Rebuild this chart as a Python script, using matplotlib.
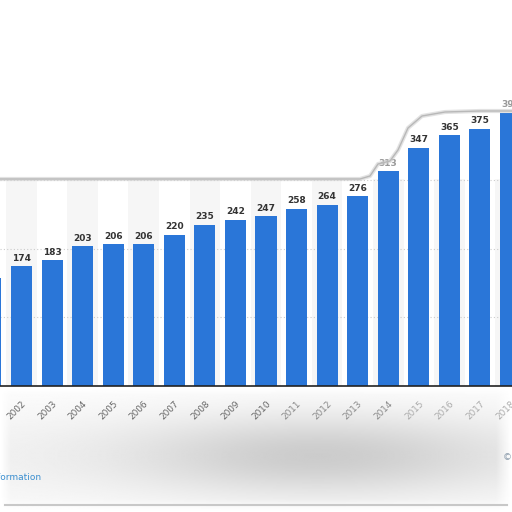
import numpy as np
import matplotlib.pyplot as plt
from matplotlib.lines import Line2D

years = list(range(2001, 2019))
values = [157, 174, 183, 203, 206, 206, 220, 235, 242, 247, 258, 264, 276, 313, 347, 365, 375, 398]
faded = [2014, 2018]  # labels sitting under the grey overlay

W = 512.0
fig = plt.figure(figsize=(5.12, 5.12), dpi=100)
fig.patch.set_facecolor('white')

# grey blurred panel under the axis
bg = fig.add_axes([0, 0, 1, 125 / W])
bg.set_axis_off()
yy, xx = np.mgrid[0:1:200j, 0:1:400j]
shade = 0.15 * np.exp(-((xx - 0.62) / 0.36) ** 2 - ((yy - 0.55) / 0.32) ** 2)
shade += 0.05 * np.exp(-((yy - 0.55) / 0.45) ** 2)
edge = np.clip(np.minimum(xx / 0.02, (1 - xx) / 0.03), 0, 1) * np.clip(np.minimum(yy / 0.06, (1 - yy) / 0.1), 0, 1)
bg.imshow(1 - shade * edge, cmap='gray', vmin=0, vmax=1, extent=[0, 1, 0, 1], aspect='auto')
bg.set_xlim(0, 1)
bg.set_ylim(0, 1)
bg.axhline(0.06, color='#c8c8c8', lw=1.5, xmin=0.01, xmax=0.99)

ax = fig.add_axes([0, (W - 385.5) / W, 1, (385.5 - 100) / W])
ax.set_facecolor('none')

x = np.arange(len(years))
top_frac = 302 / 416.8
for i in x:
    if i % 2 == 1:
        ax.axvspan(i - 0.5, i + 0.5, ymax=top_frac, color='#f6f6f6', lw=0, zorder=0)

ax.set_yticks([100, 200, 300])
ax.yaxis.grid(True, linestyle=(0, (1, 2)), color='#cccccc', lw=0.8)
ax.set_axisbelow(True)
ax.tick_params(axis='y', left=False, labelleft=False)

ax.bar(x, values, width=0.69, color='#2a76d8', zorder=3)
for xi, yr, v in zip(x, years, values):
    ax.text(xi, v + 5, str(v), ha='center', va='bottom', fontsize=6.5,
            fontweight='bold', color='#999999' if yr in faded else '#333333', zorder=4)

ax.set_xticks(x)
ax.set_xticklabels([str(y) for y in years], rotation=45, ha='right',
                   rotation_mode='anchor', fontsize=6.4)
# labels fade towards the right where the grey overlay is heavier
for lab, yr in zip(ax.get_xticklabels(), years):
    if yr >= 2015:
        lab.set_color('#aaaaaa')
    elif yr >= 2011:
        lab.set_color('#888888')
    else:
        lab.set_color('#666666')
ax.tick_params(axis='x', length=0, pad=9.5)
ax.set_xlim(0.296, 17.05)
ax.set_ylim(0, 416.8)
for s in ['top', 'right', 'left']:
    ax.spines[s].set_visible(False)
ax.spines['bottom'].set_color('#222222')
ax.spines['bottom'].set_linewidth(1.2)
ax.spines['bottom'].set_zorder(5)

# top edge of the panel (shadowed outline)
px = np.array([0, 360, 370, 378, 390, 398, 408, 422, 445, 480, 512])
py = np.array([179, 179, 176, 164, 161, 150, 128, 116, 112, 111, 111])
fig.add_artist(Line2D(px / W, 1 - py / W, color='#d0d0d0', lw=3, alpha=0.6))
fig.add_artist(Line2D(px / W, 1 - py / W, color='#b8b8b8', lw=1))

fig.text(41 / W, 1 - 478 / W, 'Additional Information', ha='right', va='center',
         fontsize=6.5, color='#3b8fd0')
fig.text(503 / W, 1 - 457 / W, '© Statista 2019', ha='left', va='center',
         fontsize=6.5, color='#8a9aaa')

fig.savefig('out.png', dpi=100)
